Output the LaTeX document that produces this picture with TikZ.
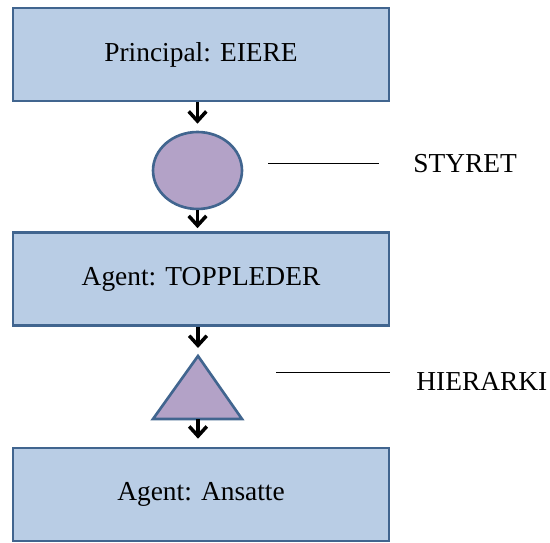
\documentclass[tikz,border=0pt]{standalone}
\usepackage{fontspec}
\setmainfont{Liberation Serif}
\usetikzlibrary{shapes.geometric,arrows.meta}
\definecolor{boxfill}{HTML}{B9CDE5}
\definecolor{boxline}{HTML}{41658F}
\definecolor{shapefill}{HTML}{B3A2C7}
\begin{document}
\begin{tikzpicture}[x=0.02cm,y=-0.02cm,
    font=\fontsize{15.6}{18}\selectfont,
    level/.style={draw=boxline,fill=boxfill,line width=1.5pt,minimum width=7.52cm,minimum height=1.86cm,inner sep=0pt},
    body/.style={draw=boxline,fill=shapefill,line width=1.5pt},
    arr/.style={-{Straight Barb[length=5.5pt,width=10pt]},line width=2pt},
    tag/.style={anchor=west,inner sep=0pt}]
    \useasboundingbox (0,0) rectangle (550,543);
    \node[level] (eiere) at (201,54.5) {Principal: EIERE};
    \node[level] (toppleder) at (201,279) {Agent: TOPPLEDER};
    \node[level] (ansatte) at (201,494.5) {Agent: Ansatte};
    \node[body,ellipse,minimum width=1.78cm,minimum height=1.54cm,inner sep=0pt] (styret) at (197.5,170.5) {};
    \coordinate (tri-top) at (198,356);
    \coordinate (tri-base) at (198,419);
    \fill[shapefill] (tri-top) -- (153,419) -- (242,419) -- cycle;
    \draw[boxline,line width=1.5pt,line join=miter] (tri-top) -- (153,419) -- (242,419) -- cycle;
    \draw[arr,shorten >=0.14cm] (styret.north |- eiere.south) -- (styret.north);
    \draw[arr,shorten >=0.06cm] (styret.south) -- (styret.south |- toppleder.north);
    \draw[arr,shorten >=0.16cm] (tri-top |- toppleder.south) -- (tri-top);
    \draw[arr,shorten >=0.16cm] (tri-base) -- (tri-base |- ansatte.north);
    \node[tag] (styret-tag) at (413,163.5) {STYRET};
    \node[tag] (hierarki-tag) at (416,381) {HIERARKI};
    \coordinate (styret-a) at (268,163);
    \coordinate (styret-b) at (379,163);
    \coordinate (hierarki-a) at (276,372);
    \coordinate (hierarki-b) at (390,372);
    \draw[line width=0.5pt] (styret-a) -- (styret-b);
    \draw[line width=0.5pt] (hierarki-a) -- (hierarki-b);
\end{tikzpicture}
\end{document}
